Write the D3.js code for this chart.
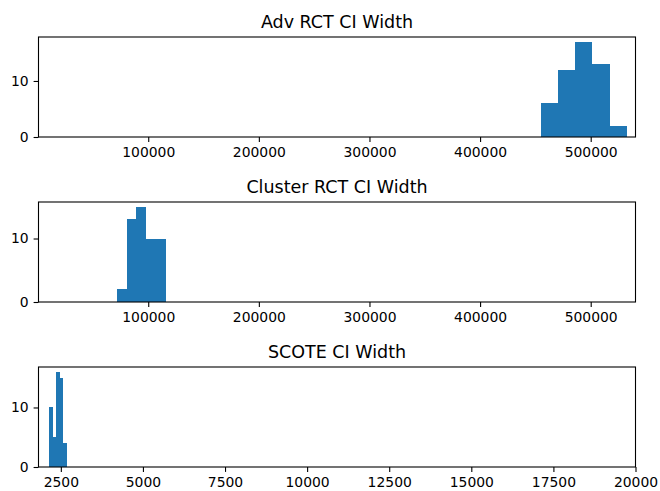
<!DOCTYPE html>
<html>
<head>
<meta charset="utf-8">
<script src="https://cdn.jsdelivr.net/npm/d3@7"></script>
<style>
  body { margin: 0; background: #fff; }
  svg { display: block; font-family: "DejaVu Sans", sans-serif; }
  .tick text { font-family: "DejaVu Sans", sans-serif; font-size: 13.9px; fill: #000; }
  .tick line { stroke: #000; stroke-width: 1.1; }
  .title { font-family: "DejaVu Sans", sans-serif; font-size: 17.5px; fill: #000; }
</style>
</head>
<body>
<svg id="chart" width="660" height="491"></svg>
<script>
// values: bin edges and counts per panel
const titles = ['Adv RCT CI Width', 'Cluster RCT CI Width', 'SCOTE CI Width'];

const advEdges = [454800, 470400, 485900, 501500, 517000, 532500];
const advCounts = [6, 12, 17, 13, 2];

const clusterEdges = [71500, 80400, 89200, 98100, 106900, 115800];
const clusterCounts = [2, 13, 15, 10, 10];

const scoteEdges = [2144, 2250, 2360, 2466, 2576, 2682];
const scoteCounts = [10, 5, 16, 15, 4];

const wideDomain = [800, 540500];
const narrowDomain = [1820, 20000];
const wideTicks = [100000, 200000, 300000, 400000, 500000];
const narrowTicks = [2500, 5000, 7500, 10000, 12500, 15000, 17500, 20000];
const yTicks = [0, 10];

const panels = [
  { title: titles[0], edges: advEdges, counts: advCounts, domain: wideDomain, ticks: wideTicks },
  { title: titles[1], edges: clusterEdges, counts: clusterCounts, domain: wideDomain, ticks: wideTicks },
  { title: titles[2], edges: scoteEdges, counts: scoteCounts, domain: narrowDomain, ticks: narrowTicks },
];

const svg = d3.select('#chart');
const left = 38.5;
const right = 635.5;
const plotHeight = 100;
const tops = [37, 202, 367];

panels.forEach((p, i) => {
  const top = tops[i];
  const g = svg.append('g').attr('transform', `translate(0, ${top})`);

  const x = d3.scaleLinear().domain(p.domain).range([left, right]);
  const yMax = d3.max(p.counts) * 1.05;
  const y = d3.scaleLinear().domain([0, yMax]).range([plotHeight, 0]);

  const bins = p.counts.map((c, k) => ({ x0: p.edges[k], x1: p.edges[k + 1], count: c }));

  g.append('g')
    .selectAll('rect')
    .data(bins)
    .enter()
    .append('rect')
    .attr('x', d => x(d.x0))
    .attr('width', d => x(d.x1) - x(d.x0))
    .attr('y', d => y(d.count))
    .attr('height', d => y(0) - y(d.count))
    .attr('fill', '#1f77b4')
    .attr('shape-rendering', 'crispEdges');

  const xAxis = g.append('g')
    .attr('transform', `translate(0, ${plotHeight})`)
    .call(d3.axisBottom(x).tickValues(p.ticks).tickFormat(d3.format('d')).tickSize(4.9).tickPadding(4.9));
  xAxis.select('.domain').remove();

  const yAxis = g.append('g')
    .attr('transform', `translate(${left}, 0)`)
    .call(d3.axisLeft(y).tickValues(yTicks).tickSize(4.9).tickPadding(4.9));
  yAxis.select('.domain').remove();

  g.append('rect')
    .attr('x', left)
    .attr('y', 0)
    .attr('width', right - left)
    .attr('height', plotHeight)
    .attr('fill', 'none')
    .attr('stroke', '#000')
    .attr('stroke-width', 1.1);

  g.append('text')
    .attr('class', 'title')
    .attr('x', (left + right) / 2)
    .attr('y', -9)
    .attr('text-anchor', 'middle')
    .text(p.title);
});
</script>
</body>
</html>
